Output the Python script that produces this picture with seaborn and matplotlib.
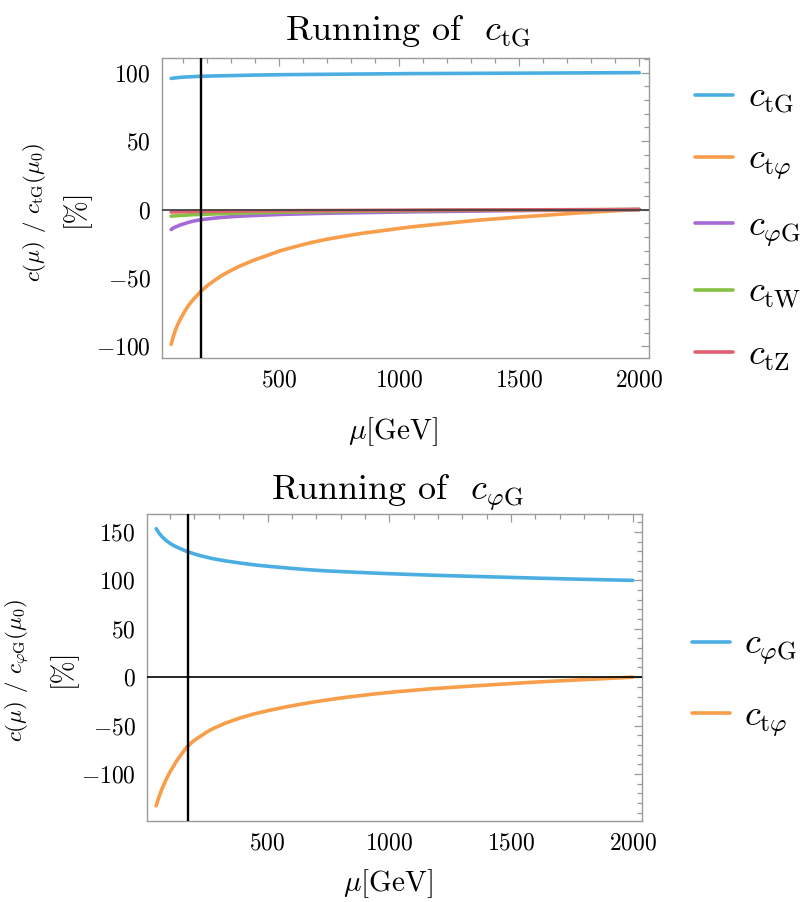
import numpy as np
import pandas as pd
import matplotlib
matplotlib.use("Agg")
import matplotlib.pyplot as plt
from matplotlib.ticker import FixedLocator, FuncFormatter
import seaborn as sns

# ---------------- data ----------------
mu_top = [50, 55, 60, 67, 75, 85, 100, 115, 130, 150, 172, 200, 230, 260, 290,
          330, 395, 450, 507, 570, 632, 700, 772, 840, 911, 1050, 1190, 1329,
          1469, 1608, 1747, 1870, 2000]
top_ctG = [95.8, 95.9, 96.0, 96.15, 96.3, 96.5, 96.7, 96.85, 97.0, 97.15, 97.3,
           97.45, 97.6, 97.7, 97.8, 97.95, 98.2, 98.35, 98.5, 98.6, 98.7, 98.8,
           98.9, 99.0, 99.1, 99.3, 99.4, 99.5, 99.6, 99.7, 99.8, 99.9, 100.0]
top_ctphi = [-98.5, -95.2, -92.2, -88.6, -85.0, -81.2, -76.4, -72.0, -68.3,
             -64.2, -60.1, -55.7, -51.9, -48.3, -45.4, -41.8, -37.0, -33.6,
             -30.0, -27.0, -24.2, -21.7, -19.5, -17.5, -15.9, -12.7, -10.2,
             -7.8, -5.9, -4.2, -2.5, -1.2, 0.0]
top_cphiG = [-14.6, -14.0, -13.4, -12.8, -12.3, -11.5, -10.6, -9.8, -9.0, -8.2,
             -7.5, -6.9, -6.3, -5.8, -5.4, -4.9, -4.4, -4.0, -3.6, -3.3, -3.0,
             -2.75, -2.5, -2.3, -2.1, -1.7, -1.4, -1.1, -0.8, -0.6, -0.4, -0.2,
             0.0]
top_ctW = [-4.9, -4.8, -4.7, -4.6, -4.5, -4.35, -4.2, -4.05, -3.9, -3.75, -3.6,
           -3.4, -3.2, -3.05, -2.9, -2.7, -2.4, -2.2, -2.0, -1.85, -1.7, -1.55,
           -1.4, -1.25, -1.1, -0.9, -0.7, -0.6, -0.4, -0.3, -0.2, -0.1, 0.0]
top_ctZ = [-1.8, -1.78, -1.75, -1.72, -1.7, -1.65, -1.6, -1.55, -1.5, -1.45,
           -1.4, -1.35, -1.3, -1.25, -1.2, -1.1, -1.0, -0.95, -0.9, -0.85,
           -0.8, -0.75, -0.7, -0.65, -0.6, -0.5, -0.4, -0.35, -0.3, -0.2,
           -0.15, -0.1, 0.0]

mu_bot = [43, 47, 52, 58, 65, 72, 80, 90, 101, 113, 126, 140, 155, 170, 195,
          220, 250, 278, 330, 388, 440, 500, 580, 662, 740, 826, 930, 1032,
          1168, 1319, 1450, 1593, 1730, 1867, 2000]
bot_cphiG = [153.4, 151.8, 149.8, 147.8, 145.7, 143.9, 142.0, 140.0, 138.1,
             136.2, 134.6, 133.0, 131.3, 129.8, 127.7, 125.8, 123.9, 122.3,
             120.0, 117.9, 116.2, 114.6, 112.8, 111.1, 109.8, 108.8, 107.6,
             106.6, 105.4, 104.3, 103.4, 102.4, 101.5, 100.7, 100.0]
bot_ctphi = [-132.9, -129.4, -125.6, -121.1, -116.5, -112.4, -107.8, -102.6,
             -97.3, -92.5, -86.8, -81.9, -76.7, -72.0, -66.1, -61.8, -56.8,
             -52.9, -47.2, -42.1, -38.3, -34.7, -30.5, -26.8, -23.7, -20.7,
             -17.6, -15.0, -12.1, -9.5, -7.4, -5.2, -3.4, -1.7, 0.0]

labels_top = [r"$c_{\mathrm{tG}}$", r"$c_{\mathrm{t}\varphi}$",
              r"$c_{\varphi\mathrm{G}}$", r"$c_{\mathrm{tW}}$",
              r"$c_{\mathrm{tZ}}$"]
labels_bot = [r"$c_{\varphi\mathrm{G}}$", r"$c_{\mathrm{t}\varphi}$"]
colors_top = ["#4aaee2", "#f89d49", "#a56ad8", "#86c144", "#e2606f"]
colors_bot = ["#4aaee2", "#f89d49"]
m_top_quark = 172.5

xticks_major = [500, 1000, 1500, 2000]
yticks_top = [-100, -50, 0, 50, 100]
yticks_bot = [-100, -50, 0, 50, 100, 150]

# ---------------- style ----------------
sns.set_theme(style="white")
plt.rcParams["font.family"] = ["cmr10", "DejaVu Serif"]
plt.rcParams["mathtext.fontset"] = "cm"
plt.rcParams["axes.unicode_minus"] = True
plt.rcParams["axes.formatter.use_mathtext"] = True
plt.rcParams["text.color"] = "black"
plt.rcParams["axes.labelcolor"] = "black"

fig = plt.figure(figsize=(8.03, 9.02), dpi=100)
ax1 = fig.add_axes([0.2015, 0.6031, 0.6065, 0.3326])
ax2 = fig.add_axes([0.1827, 0.0898, 0.6172, 0.3404])

FRAME = "#9a9a9a"
LW = 2.6
fmt = FuncFormatter(lambda v, p: r"$%d$" % int(round(v)))


def style_axes(ax, xlim, ylim, yticks, ylabel, label_x, label_y, pct_x,
               xlabel_pos):
    ax.set_xlim(*xlim)
    ax.set_ylim(*ylim)
    ax.xaxis.set_major_locator(FixedLocator(xticks_major))
    ax.xaxis.set_minor_locator(FixedLocator(
        [v for v in range(100, 2100, 100) if v not in xticks_major]))
    ax.yaxis.set_major_locator(FixedLocator(yticks))
    ax.yaxis.set_minor_locator(FixedLocator(
        [v for v in range(-150, 180, 10) if v not in yticks]))
    ax.xaxis.set_major_formatter(fmt)
    ax.yaxis.set_major_formatter(fmt)
    ax.tick_params(which="both", direction="in", top=True, right=True,
                   color=FRAME, width=0.9, labelsize=17, labelcolor="black")
    ax.tick_params(which="major", length=6, pad=8)
    ax.tick_params(which="minor", length=3.5)
    for s in ax.spines.values():
        s.set_color(FRAME)
        s.set_linewidth(1.0)
        s.set_visible(True)
    ax.set_xlabel(r"$\mu[\mathrm{GeV}]$", fontsize=21)
    ax.xaxis.set_label_coords(*xlabel_pos)
    ax.set_ylabel(ylabel, fontsize=16.5)
    ax.yaxis.set_label_coords(label_x, label_y)
    ax.text(pct_x, 0.5, "[%]", rotation=90, transform=ax.transAxes,
            ha="center", va="center", fontsize=20)
    ax.set_facecolor("white")


# ---------------- top panel ----------------
df_top = pd.DataFrame({"mu": mu_top * 5,
                       "val": top_ctG + top_ctphi + top_cphiG + top_ctW + top_ctZ,
                       "coef": sum([[l] * len(mu_top) for l in labels_top], [])})
sns.lineplot(data=df_top, x="mu", y="val", hue="coef", hue_order=labels_top,
             palette=colors_top, linewidth=LW, sort=False, estimator=None,
             legend=True, ax=ax1)
leg = ax1.get_legend()
h1 = leg.legend_handles
leg.remove()
ax1.axhline(0, color="#444444", lw=1.3, zorder=5)
ax1.axvline(m_top_quark, color="black", lw=1.7, zorder=6)
style_axes(ax1, (11, 2040), (-108.5, 110.7), yticks_top,
           r"$c(\mu)$ / $c_{\mathrm{tG}}(\mu_0)$",
           -0.233, 0.485, -0.178, (0.475, -0.19))
fig.text(0.508, 0.9557, r"Running of  $c_{\mathrm{tG}}$", ha="center",
         va="baseline", fontsize=26)
fig.legend(h1, labels_top, loc="center left", bbox_to_anchor=(0.866, 0.748),
           frameon=False, fontsize=26, handlelength=1.05, handletextpad=0.4,
           labelspacing=0.78, borderpad=0, borderaxespad=0)

# ---------------- bottom panel ----------------
df_bot = pd.DataFrame({"mu": mu_bot * 2,
                       "val": bot_cphiG + bot_ctphi,
                       "coef": sum([[l] * len(mu_bot) for l in labels_bot], [])})
sns.lineplot(data=df_bot, x="mu", y="val", hue="coef", hue_order=labels_bot,
             palette=colors_bot, linewidth=LW, sort=False, estimator=None,
             legend=True, ax=ax2)
leg = ax2.get_legend()
h2 = leg.legend_handles
leg.remove()
ax2.axhline(0, color="black", lw=1.2, zorder=5)
ax2.axvline(m_top_quark, color="black", lw=1.7, zorder=6)
style_axes(ax2, (4, 2039), (-148.6, 168.6), yticks_bot,
           r"$c(\mu)$ / $c_{\varphi\mathrm{G}}(\mu_0)$",
           -0.231, 0.49, -0.170, (0.487, -0.15))
fig.text(0.495, 0.4457, r"Running of  $c_{\varphi\mathrm{G}}$", ha="center",
         va="baseline", fontsize=26)
fig.legend(h2, labels_bot, loc="center left", bbox_to_anchor=(0.8618, 0.2417),
           frameon=False, fontsize=26, handlelength=1.05, handletextpad=0.4,
           labelspacing=0.92, borderpad=0, borderaxespad=0)

fig.savefig("out.png", dpi=100, facecolor="white")
